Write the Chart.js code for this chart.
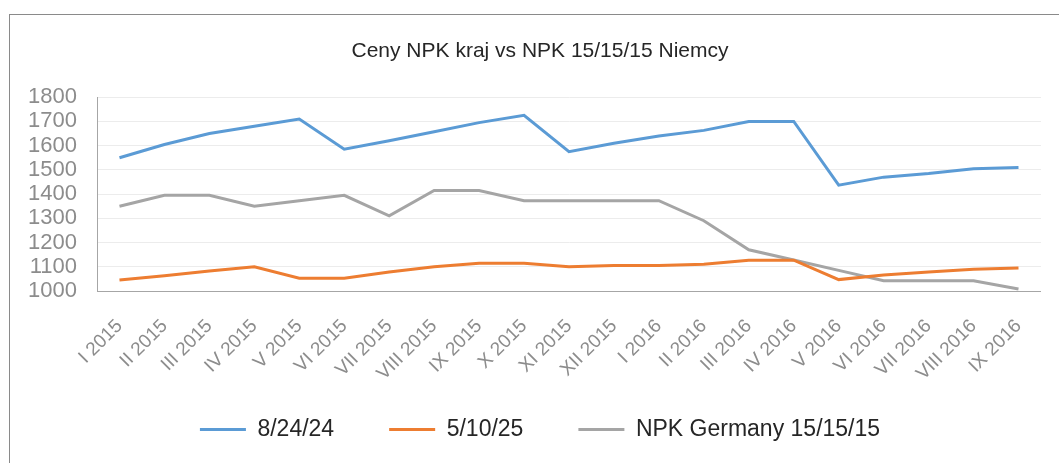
<!DOCTYPE html>
<html>
<head>
<meta charset="utf-8">
<script src="https://cdn.jsdelivr.net/npm/chart.js@4.4.1/dist/chart.umd.min.js"></script>
<style>
  body { margin: 0; background: #fff; }
  #wrap { position: relative; width: 1059px; height: 463px; overflow: hidden; }
  #frame { position: absolute; left: 9px; top: 14px; width: 1100px; height: 500px; border: 1px solid #8a8a8a; }
  canvas { position: absolute; left: 0; top: 0; }
</style>
</head>
<body>
<div id="wrap">
  <div id="frame"></div>
  <canvas id="npkChart" width="1059" height="463"></canvas>
</div>
<script>
// months Jan 2015 - Sep 2016
var months = ['I 2015', 'II 2015', 'III 2015', 'IV 2015', 'V 2015', 'VI 2015', 'VII 2015', 'VIII 2015', 'IX 2015', 'X 2015', 'XI 2015', 'XII 2015',
  'I 2016', 'II 2016', 'III 2016', 'IV 2016', 'V 2016', 'VI 2016', 'VII 2016', 'VIII 2016', 'IX 2016'];

var npk82424 = [1550, 1605, 1650, 1680, 1710, 1585, 1620, 1657, 1695, 1725, 1575, 1610, 1640, 1663, 1700, 1700, 1437, 1470, 1485, 1505, 1510];
var npk51025 = [1045, 1063, 1083, 1100, 1053, 1053, 1078, 1100, 1115, 1115, 1100, 1105, 1105, 1110, 1127, 1127, 1047, 1066, 1078, 1090, 1095];
var npkGermany = [1350, 1395, 1395, 1350, 1373, 1395, 1310, 1415, 1415, 1373, 1373, 1373, 1373, 1290, 1170, 1128, 1085, 1042, 1042, 1042, 1008];

var yMin = 1000, yMax = 1800, yStep = 100;

// let tick labels spill outside their axis boxes (like Excel does)
var noLabelClip = {
  id: 'noLabelClip',
  beforeDraw: function (chart) {
    chart.scales.x._computeLabelArea = function () { return undefined; };
    chart.scales.y._computeLabelArea = function () { return undefined; };
  }
};

document.addEventListener('DOMContentLoaded', function () {
  var ctx = document.getElementById('npkChart').getContext('2d');

  function line(label, data, color) {
    return {
      label: label,
      data: data,
      borderColor: color,
      backgroundColor: color,
      borderWidth: 3,
      pointRadius: 0,
      fill: false,
      tension: 0
    };
  }

  new Chart(ctx, {
    type: 'line',
    data: {
      labels: months,
      datasets: [
        line('8/24/24', npk82424, '#5b9bd5'),
        line('5/10/25', npk51025, '#ed7d31'),
        line('NPK Germany 15/15/15', npkGermany, '#a5a5a5')
      ]
    },
    plugins: [noLabelClip],
    options: {
      responsive: false,
      animation: false,
      layout: { padding: { left: 37, right: 16, top: 0, bottom: 12 } },
      plugins: {
        title: {
          display: true,
          text: 'Ceny NPK kraj vs NPK 15/15/15 Niemcy',
          color: '#262626',
          font: { family: 'Liberation Sans', size: 21, weight: 'normal' },
          padding: { top: 39, bottom: 33 }
        },
        legend: {
          position: 'bottom',
          labels: {
            usePointStyle: true,
            pointStyle: 'line',
            pointStyleWidth: 46,
            color: '#262626',
            font: { family: 'Liberation Sans', size: 23 },
            padding: 55
          }
        },
        tooltip: { enabled: false }
      },
      scales: {
        x: {
          offset: true,
          afterFit: function (scale) { scale.height = 72; },
          grid: { display: false, drawTicks: false },
          border: { display: true, color: '#a6a6a6', width: 1 },
          ticks: {
            color: '#8c8c8c',
            font: { family: 'Liberation Sans', size: 19 },
            minRotation: 45,
            maxRotation: 45,
            autoSkip: false,
            padding: 24
          }
        },
        y: {
          min: yMin,
          max: yMax,
          afterFit: function (scale) { scale.width = 60; },
          grid: { color: '#ececec', drawTicks: false },
          border: { display: true, color: '#a6a6a6', width: 1 },
          ticks: {
            stepSize: yStep,
            autoSkip: false,
            color: '#8c8c8c',
            font: { family: 'Liberation Sans', size: 22 },
            padding: 20,
            callback: function (v) { return String(v); }
          }
        }
      }
    }
  });
});
</script>
</body>
</html>
